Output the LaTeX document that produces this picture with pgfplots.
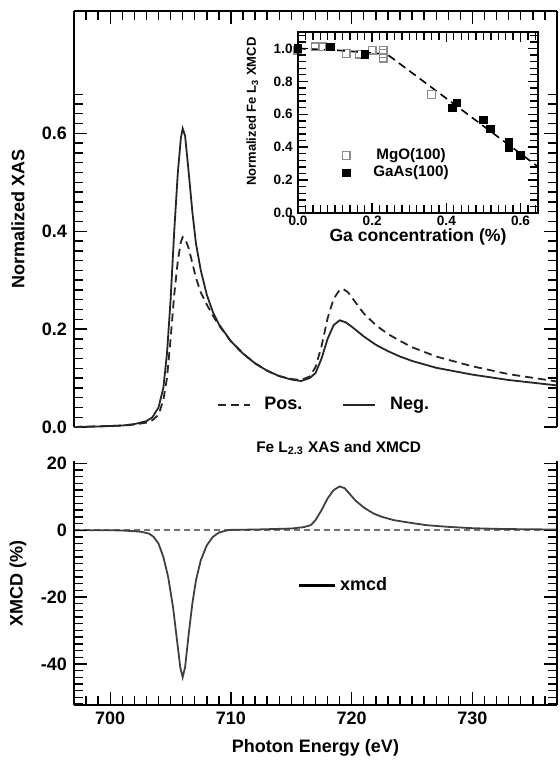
\documentclass[border=0pt]{standalone}
\usepackage{fontspec}
\setmainfont{Liberation Sans}
\usepackage{pgfplots}
\pgfplotsset{compat=1.18}

\tikzset{
  bigtxt/.style={font=\bfseries\fontsize{9}{10.5}\selectfont},
  smalltxt/.style={font=\bfseries\fontsize{6.8}{8}\selectfont},
}
\pgfplotsset{
  igor/.style={
    scale only axis,
    tick align=inside,
    major tick length=6.5pt,
    /pgf/number format/assume math mode=true,
    ticklabel style={bigtxt},
    label style={bigtxt},
    axis line style={-, line width=0.8pt},
    tick style={black, line width=0.7pt},
  },
  % second pass over a panel that only draws extra ticks
  tickpass/.style={igor, xticklabels={}, yticklabels={}},
  sqlegend/.style={legend image code/.code={%
    \draw[##1] plot coordinates {(8.5pt,0pt)}; \path (0pt,0pt) (21pt,0pt);}},
}

\begin{document}
\begin{tikzpicture}
\useasboundingbox (0,0) rectangle (279.5pt,-384pt);

% ---- upper panel: XAS ----
\begin{axis}[igor,
  at={(37pt,-213.5pt)}, anchor=south west,
  width=241.5pt, height=208pt,
  xmin=697, xmax=737, ymin=0, ymax=0.85,
  axis x line*=top, axis y line*=box,
  xtick={700,710,720,730}, xticklabels={},
  ytick={0,0.2,0.4,0.6},
  yticklabel style={/pgf/number format/.cd, fixed, fixed zerofill, precision=1},
  ylabel={Normalized XAS},
  ylabel style={at={(axis description cs:-0.116,0.5)}, anchor=center},
  clip=false,
  legend style={draw=none, fill=none, bigtxt, legend columns=2,
    at={(axis description cs:0.282,0.053)}, anchor=west,
    /tikz/every even column/.append style={column sep=18pt}},
  legend image code/.code={\draw[#1] (0pt,0pt) -- (16pt,0pt); \path (21pt,0pt);},
]
\addplot[black!85, line width=0.9pt, dash pattern=on 4pt off 2.5pt] coordinates {
(697,0) (701,0.003) (702,0.005) (703,0.009) (703.5,0.014) (704,0.025)
(704.4,0.055) (704.7,0.10) (705.0,0.18) (705.3,0.27) (705.6,0.34)
(705.85,0.378) (706.0,0.388) (706.2,0.385) (706.5,0.365) (706.8,0.335)
(707.1,0.305) (707.5,0.275) (708,0.25) (708.5,0.228) (709,0.208)
(710,0.175) (711,0.15) (712,0.13) (713,0.115) (714,0.104) (715,0.098)
(715.8,0.096) (716.5,0.103) (717,0.122) (717.5,0.165) (718,0.222)
(718.5,0.262) (719,0.28) (719.3,0.282) (719.7,0.275) (720,0.265)
(721,0.232) (722,0.208) (723,0.19) (724,0.176) (725,0.163) (727,0.144)
(730,0.124) (733,0.108) (737,0.093)
};
\addlegendentry{Pos.}
\addplot[black!85, line width=0.9pt] coordinates {
(697,0) (699,0.001) (701,0.003) (702,0.006) (703,0.012) (703.5,0.02)
(704,0.04) (704.4,0.08) (704.7,0.15) (705.0,0.26) (705.3,0.40)
(705.6,0.52) (705.85,0.59) (706.0,0.61) (706.2,0.595) (706.5,0.52)
(706.8,0.44) (707.1,0.375) (707.5,0.32) (708,0.27) (708.5,0.235)
(709,0.21) (710,0.175) (711,0.15) (712,0.13) (713,0.115) (714,0.104)
(715,0.097) (715.8,0.094) (716.5,0.10) (717,0.11) (717.5,0.14)
(718,0.18) (718.5,0.208) (719,0.218) (719.5,0.214) (720,0.205)
(721,0.185) (722,0.168) (723,0.155) (724,0.144) (725,0.135)
(727,0.121) (730,0.107) (733,0.096) (737,0.085)
};
\addlegendentry{Neg.}
\end{axis}
% short ticks of the upper panel
\begin{axis}[tickpass, major tick length=4.5pt,
  at={(37pt,-213.5pt)}, anchor=south west,
  width=241.5pt, height=208pt,
  xmin=697, xmax=737, ymin=0, ymax=0.85,
  axis x line*=top, axis y line*=box,
  xtick={698,699,701,702,703,704,705,706,707,708,709,711,712,713,714,715,716,717,718,719,721,722,723,724,725,726,727,728,729,731,732,733,734,735,736},
  ytick={0.02,0.04,0.06,0.08,0.1,0.12,0.14,0.16,0.18,0.22,0.24,0.26,0.28,0.3,0.32,0.34,0.36,0.38,0.42,0.44,0.46,0.48,0.5,0.52,0.54,0.56,0.58,0.62,0.64,0.66,0.68},
]
\addplot[draw=none, forget plot] coordinates {(700,0.1)};
\end{axis}

% ---- lower panel: XMCD (every tick in one list) ----
\begin{axis}[igor, major tick length=4.5pt,
  at={(37pt,-352.5pt)}, anchor=south west,
  width=241.5pt, height=122pt,
  xmin=697, xmax=737, ymin=-52.3, ymax=20.7,
  axis x line*=bottom, axis y line*=box,
  xtick={698,699,700,701,702,703,704,705,706,707,708,709,710,711,712,713,714,715,716,717,718,719,720,721,722,723,724,725,726,727,728,729,730,731,732,733,734,735,736},
  xticklabels={{},{},700,{},{},{},{},{},{},{},{},{},710,{},{},{},{},{},{},{},{},{},720,{},{},{},{},{},{},{},{},{},730,{},{},{},{},{},{}},
  ytick={-52,-50,-48,-46,-44,-42,-40,-38,-36,-34,-32,-30,-28,-26,-24,-22,-20,-18,-16,-14,-12,-10,-8,-6,-4,-2,0,2,4,6,8,10,12,14,16,18,20},
  yticklabels={{},{},{},{},{},{},-40,{},{},{},{},{},{},{},{},{},-20,{},{},{},{},{},{},{},{},{},0,{},{},{},{},{},{},{},{},{},20},
  xlabel={Photon Energy (eV)},
  xlabel style={at={(axis description cs:0.5,-0.176)}, anchor=center},
  ylabel={XMCD (\%)},
  ylabel style={at={(axis description cs:-0.116,0.5)}, anchor=center},
  title={Fe L\textsubscript{2.3} XAS and XMCD},
  title style={font=\bfseries\fontsize{7.7}{9}\selectfont,
    at={(axis description cs:0.548,1.004)}, anchor=center},
  legend style={draw=none, fill=none, bigtxt,
    at={(axis description cs:0.45,0.49)}, anchor=west},
  legend image code/.code={\draw[black, line width=1.2pt] (0pt,0pt) -- (18pt,0pt);},
]
\addplot[black!55, line width=0.9pt, dash pattern=on 3pt off 2pt, forget plot]
  coordinates {(697,0) (737,0)};
\addplot[black!75, line width=0.9pt] coordinates {
(697,0) (700,0) (701,-0.1) (702,-0.3) (702.6,-0.5) (703.2,-1.0)
(703.6,-2.0) (704.0,-4.0) (704.4,-8.0) (704.8,-14) (705.2,-23)
(705.5,-32) (705.8,-41) (706.0,-44) (706.2,-41) (706.5,-31) (706.8,-22)
(707.1,-15) (707.5,-9) (708.0,-4.5) (708.5,-2) (709.0,-0.7) (709.6,-0.1)
(710,0.1) (712,0.2) (714,0.4) (715,0.5) (716,0.9) (716.6,1.5)
(717.0,3.0) (717.5,6.0) (718.0,9.5) (718.5,12.0) (719.0,13.1)
(719.4,12.6) (719.8,11.0) (720.3,8.9) (721.0,6.8) (721.8,5.0)
(722.5,4.0) (723.5,3.0) (724.7,2.3) (726.2,1.5) (728,1.0) (730,0.6)
(732,0.4) (734,0.3) (737,0.2)
};
\addlegendentry{xmcd}
\end{axis}
% long ticks of the lower panel
\begin{axis}[tickpass,
  at={(37pt,-352.5pt)}, anchor=south west,
  width=241.5pt, height=122pt,
  xmin=697, xmax=737, ymin=-52.3, ymax=20.7,
  axis x line*=bottom, axis y line*=box,
  xtick={700,710,720,730}, ytick={-40,-20,0,20},
]
\addplot[draw=none, forget plot] coordinates {(700,0)};
\end{axis}

% ---- inset: normalized L3 XMCD vs Ga ----
\begin{axis}[igor,
  at={(149pt,-106.5pt)}, anchor=south west,
  width=120pt, height=90.5pt,
  xmin=0, xmax=0.647, ymin=0, ymax=1.1,
  axis background/.style={fill=white},
  major tick length=5pt,
  xtick={0,0.2,0.4,0.6},
  ytick={0,0.2,0.4,0.6,0.8,1.0},
  ticklabel style={smalltxt},
  xticklabel style={inner sep=1.5pt, /pgf/number format/.cd, fixed, fixed zerofill, precision=1},
  yticklabel style={inner sep=2.5pt, /pgf/number format/.cd, fixed, fixed zerofill, precision=1},
  xlabel={Ga concentration (\%)},
  xlabel style={font=\bfseries\fontsize{8.8}{10}\selectfont,
    at={(axis description cs:0.5,-0.135)}, anchor=center},
  ylabel={Normalized Fe L\textsubscript{3} XMCD},
  ylabel style={font=\bfseries\fontsize{6.5}{8}\selectfont,
    at={(axis description cs:-0.19,0.56)}, anchor=center},
  clip=false,
  legend style={draw=none, fill=none, font=\bfseries\fontsize{7.6}{8.5}\selectfont,
    row sep=0pt, nodes={inner sep=0.8pt},
    at={(axis description cs:0.1,0.27)}, anchor=west},
]
\addplot[black, line width=0.8pt, dash pattern=on 4pt off 2.5pt, forget plot]
  coordinates {(0,1.0) (0.1,0.99) (0.24,0.965) (0.645,0.285)};
\addplot[only marks, mark=square, mark size=1.9pt, black!45, line width=0.7pt, sqlegend]
  coordinates {(0,0.99) (0.047,1.01) (0.065,1.01) (0.13,0.97) (0.165,0.965)
  (0.20,0.99) (0.23,0.99) (0.23,0.97) (0.23,0.94) (0.36,0.72)};
\addlegendentry{MgO(100)}
\addplot[only marks, mark=square*, mark size=1.9pt, black, sqlegend]
  coordinates {(0,1.0) (0.088,1.01) (0.18,0.965) (0.417,0.64) (0.428,0.67)
  (0.50,0.565) (0.518,0.51) (0.569,0.43) (0.569,0.40) (0.60,0.35)};
\addlegendentry{GaAs(100)}
\end{axis}
% short ticks of the inset
\begin{axis}[tickpass, major tick length=4pt,
  at={(149pt,-106.5pt)}, anchor=south west,
  width=120pt, height=90.5pt,
  xmin=0, xmax=0.647, ymin=0, ymax=1.1,
  xtick={0.02,0.04,0.06,0.08,0.1,0.12,0.14,0.16,0.18,0.22,0.24,0.26,0.28,0.3,0.32,0.34,0.36,0.38,0.42,0.44,0.46,0.48,0.5,0.52,0.54,0.56,0.58,0.62,0.64},
  ytick={0.04,0.08,0.12,0.16,0.24,0.28,0.32,0.36,0.44,0.48,0.52,0.56,0.64,0.68,0.72,0.76,0.84,0.88,0.92,0.96,1.04,1.08},
]
\addplot[draw=none, forget plot] coordinates {(0.3,0.5)};
\end{axis}
\end{tikzpicture}
\end{document}
